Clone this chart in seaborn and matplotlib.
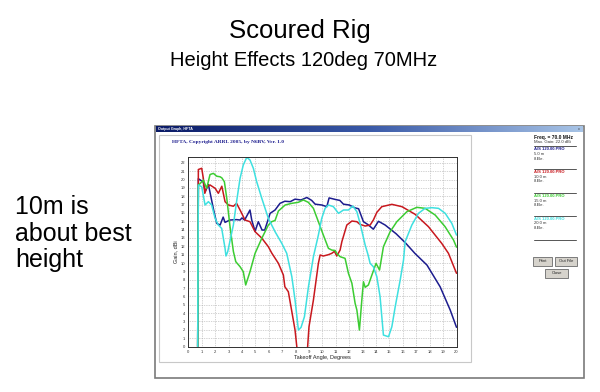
import numpy as np
import pandas as pd
import matplotlib
matplotlib.use("Agg")
import matplotlib.pyplot as plt
from matplotlib.patches import Rectangle
from matplotlib.colors import LinearSegmentedColormap
import seaborn as sns

# ---------------- data ----------------
series_names = ["5.0 m", "10.0 m", "15.0 m", "20.0 m"]
series_colors = ["#1c1c8e", "#c8181e", "#3ccc32", "#3ee0e0"]

blue_x = [0.7, 0.75, 1.12, 1.25, 1.5, 1.87, 2.12, 2.37, 2.6, 2.74, 3.1, 3.6, 3.86, 4.0, 4.2, 4.6, 4.73, 4.98,
          5.22, 5.5, 5.7, 6.1, 6.47, 6.84, 7.2, 7.6, 7.96, 8.4, 8.84, 9.2, 9.46, 9.95, 10.33, 10.5, 11.0, 11.3,
          11.57, 12.0, 12.44, 12.7, 13.06, 13.4, 13.8, 14.18, 14.68, 15.5, 16.2, 16.9, 17.8, 18.78, 19.53, 20.0]
blue_y = [0, 20.1, 19.7, 18.5, 19.4, 16.5, 14.75, 14.55, 15.5, 14.87, 15.15, 15.2, 15.15, 15.4, 15.15, 16.35, 15.15,
          13.8, 14.95, 13.95, 13.95, 15.95, 16.35, 17.15, 17.4, 17.35, 17.65, 17.55, 17.85, 17.5, 17.05, 16.95,
          16.75, 17.8, 17.6, 17.5, 17.05, 16.95, 16.6, 16.5, 14.95, 14.6, 14.05, 15.0, 14.55, 13.5, 12.4, 11.15,
          9.75, 7.15, 4.37, 2.3]

red_x = [0.7, 0.75, 1.0, 1.12, 1.23, 1.37, 1.62, 2.0, 2.24, 2.5, 2.74, 2.99, 3.36, 3.6, 3.86, 4.23, 4.6, 4.98,
         5.47, 5.97, 6.22, 6.72, 7.09, 7.2, 7.46, 7.7, 7.96, 8.09, 8.5, 8.9, 9.0, 9.33, 9.7, 9.83, 10.07, 10.45,
         10.7, 10.9, 11.07, 11.32, 11.45, 11.82, 12.2, 12.57, 12.8, 13.19, 13.56, 13.8, 14.06, 14.43, 15.18,
         15.93, 16.92, 17.91, 18.9, 19.4, 20.0]
red_y = [0, 21.2, 21.35, 20.15, 18.35, 19.1, 19.35, 18.95, 18.35, 19.2, 17.35, 16.95, 16.8, 17.15, 16.35, 15.15,
         14.95, 13.75, 13.0, 11.95, 11.2, 9.96, 8.56, 7.16, 6.56, 4.37, 1.97, 0, -4, 0, 2.37, 5.57, 9.96, 10.96,
         10.84, 11.0, 11.16, 11.4, 10.84, 11.55, 12.55, 14.55, 15.03, 14.95, 14.63, 14.43, 14.55, 15.15, 16.07,
         16.75, 17.03, 16.75, 15.83, 14.35, 12.35, 11.16, 8.77]

green_x = [0.7, 0.75, 0.87, 1.12, 1.37, 1.62, 1.87, 2.12, 2.37, 2.5, 2.69, 2.87, 3.1, 3.36, 3.54, 3.86, 4.1, 4.28,
           4.6, 4.98, 5.48, 5.97, 6.22, 6.47, 6.72, 7.22, 7.71, 8.2, 8.58, 8.95, 9.33, 9.7, 10.07, 10.45, 10.7,
           10.95, 11.07, 11.32, 11.69, 11.94, 12.2, 12.44, 12.57, 12.76, 12.94, 13.06, 13.19, 13.43, 13.69, 14.0,
           14.26, 14.55, 15.05, 15.55, 16.3, 17.04, 17.66, 18.41, 19.15, 19.78, 20.0]
green_y = [0, 19.35, 19.5, 19.94, 18.95, 20.6, 20.74, 20.4, 20.33, 20.2, 19.74, 17.75, 14.5, 11.4, 10.16, 9.56,
           8.96, 7.37, 8.96, 11.16, 12.96, 14.55, 14.95, 15.1, 16.23, 16.95, 17.15, 17.27, 17.55, 17.27, 16.55,
           14.95, 13.35, 11.76, 11.55, 11.5, 11.16, 10.76, 10.56, 8.77, 7.57, 5.17, 4.37, 1.97, 5.57, 7.76, 7.09,
           7.37, 8.56, 9.96, 9.16, 11.95, 13.75, 14.95, 16.15, 16.67, 16.55, 15.75, 14.35, 12.75, 11.9]

cyan_x = [0.7, 0.75, 1.0, 1.25, 1.5, 1.74, 2.0, 2.24, 2.49, 2.74, 2.81, 2.94, 3.36, 3.6, 3.86, 4.1, 4.36, 4.6,
          4.85, 5.1, 5.48, 5.97, 6.47, 6.97, 7.34, 7.72, 7.96, 8.21, 8.41, 8.66, 8.96, 9.33, 9.7, 9.95, 10.2,
          10.45, 10.82, 11.2, 11.57, 11.94, 12.27, 12.57, 12.81, 13.19, 13.4, 13.56, 13.8, 14.06, 14.3, 14.55,
          14.93, 15.18, 15.43, 15.8, 16.05, 16.17, 16.67, 17.16, 17.66, 18.16, 18.66, 19.16, 19.65, 20.0]
cyan_y = [0, 19.35, 19.14, 16.95, 17.35, 16.95, 15.35, 14.55, 14.15, 11.76, 10.84, 11.36, 14.55, 17.35, 20.15,
          21.74, 22.66, 22.34, 21.35, 19.74, 17.75, 15.35, 13.75, 12.36, 11.16, 8.36, 5.57, 1.97, 2.3, 3.57, 7.16,
          10.76, 13.35, 15.35, 16.55, 16.95, 16.75, 15.95, 16.35, 16.35, 16.83, 16.15, 14.75, 12.15, 11.0, 9.96,
          9.56, 8.36, 5.97, 1.37, 1.17, 2.37, 4.77, 7.96, 10.36, 12.55, 14.55, 15.95, 16.55, 16.63, 16.55, 15.95,
          14.75, 13.35]

x_ticks = list(range(0, 21))
y_ticks = list(range(0, 23))

legend_file = "A/S 120.00.PRO"
legend_ele = "8-Ele."

# ---------------- figure ----------------
sns.set_style("white")
plt.rcParams["font.family"] = ["Liberation Sans", "DejaVu Sans"]

W, H = 600, 392
fig = plt.figure(figsize=(6.0, 3.92), dpi=100)
fig.patch.set_facecolor("white")

def fx(px):
    return px / W

def fy(py):
    return 1 - py / H

# slide text
fig.text(fx(300), fy(31), "Scoured Rig", ha="center", va="center", fontsize=18.5, color="black")
fig.text(fx(304), fy(60), "Height Effects 120deg 70MHz", ha="center", va="center", fontsize=14.5, color="black")
for txt, yy in zip(["10m is", "about best", "height"], [207, 234, 260]):
    fig.text(fx(15), fy(yy), txt, ha="left", va="center", fontsize=18, color="black")

# window frame (behind everything)
fig.patches.append(Rectangle((fx(155), fy(378)), fx(584) - fx(155), fy(126) - fy(378),
                             transform=fig.transFigure, facecolor="white", edgecolor="#7a7a7a",
                             linewidth=1.2, zorder=-5))
fig.patches.append(Rectangle((fx(159), fy(362)), fx(471) - fx(159), fy(135) - fy(362),
                             transform=fig.transFigure, facecolor="white", edgecolor="#c8c8c8",
                             linewidth=0.8, zorder=-4))
# title bar gradient
tb = fig.add_axes([fx(156), fy(132.5), fx(583) - fx(156), (132.5 - 126) / H])
tb.set_zorder(5)
cmap = LinearSegmentedColormap.from_list("tb", ["#0a1a66", "#3a5aa8", "#a8c4e6"])
tb.imshow(np.linspace(0, 1, 256)[None, :], aspect="auto", cmap=cmap, extent=[0, 1, 0, 1])
tb.set_axis_off()
tb.text(0.005, 0.5, "Output Graph, HFTA", color="white", fontsize=2.6, fontweight="bold",
        va="center", ha="left", transform=tb.transAxes)
tb.text(0.99, 0.5, "x", color="#333333", fontsize=2.6, va="center", ha="center", transform=tb.transAxes)

fig.text(fx(172), fy(141.5), "HFTA, Copyright ARRL 2005, by N6BV, Ver. 1.0", color="#1c1c8e",
         fontsize=3.9, fontweight="bold", family=["Liberation Serif", "DejaVu Serif"], va="center", ha="left")

# right panel legend
lx = 534
fig.text(fx(lx), fy(137), "Freq. = 70.0 MHz", fontsize=3.5, fontweight="bold", color="#111111", va="center")
fig.text(fx(lx), fy(141.5), "Max. Gain: 22.0 dBi", fontsize=3.1, color="#333333", va="center")
sep_y = [146, 168.5, 192.5, 215.5, 239.5]
for sy in sep_y:
    fig.lines.append(plt.Line2D([fx(lx), fx(576)], [fy(sy), fy(sy)], transform=fig.transFigure,
                                color="#555555", linewidth=0.7))
for i, (name, col) in enumerate(zip(series_names, series_colors)):
    base = sep_y[i]
    fig.text(fx(lx), fy(base + 3.5), legend_file, fontsize=3.0, color=col, fontweight="bold", va="center")
    fig.text(fx(lx), fy(base + 8), name, fontsize=3.0, color="#333333", va="center")
    fig.text(fx(lx), fy(base + 12.5), legend_ele, fontsize=3.0, color="#333333", va="center")

# buttons
for (bx0, by0, bx1, by1, label) in [(533, 257, 552, 266, "Print"), (555, 257, 577, 266, "Out File"),
                                     (545, 268.5, 568, 278, "Close")]:
    fig.patches.append(Rectangle((fx(bx0), fy(by1)), fx(bx1) - fx(bx0), fy(by0) - fy(by1),
                                 transform=fig.transFigure, facecolor="#d6d3cc", edgecolor="#6a6a6a",
                                 linewidth=0.6))
    fig.text(fx((bx0 + bx1) / 2), fy((by0 + by1) / 2), label, fontsize=3.0, color="#222222",
             ha="center", va="center")

# plot axes
ax = fig.add_axes([fx(188.3), fy(346.5), fx(456.5) - fx(188.3), (346.5 - 157) / H])
ax.set_zorder(2)
ax.set_facecolor("white")
all_x = [blue_x, red_x, green_x, cyan_x]
all_y = [blue_y, red_y, green_y, cyan_y]
for name, col, xs, ys in zip(series_names, series_colors, all_x, all_y):
    df = pd.DataFrame({"angle": xs, "gain": ys})
    sns.lineplot(data=df, x="angle", y="gain", ax=ax, color=col, linewidth=1.1, sort=False,
                 estimator=None, legend=False)

ax.set_xlim(0, 20)
ax.set_ylim(0, 22.7)
ax.set_xticks(x_ticks)
ax.set_yticks(y_ticks)
ax.set_xticklabels([str(t) for t in x_ticks])
ax.set_yticklabels([str(t) for t in y_ticks])
ax.tick_params(axis="both", labelsize=3.0, length=1.2, width=0.4, pad=1.2, colors="#333333")
ax.grid(True, linestyle=(0, (1, 1.5)), color="#a8a8a8", linewidth=0.5)
for sp in ax.spines.values():
    sp.set_color("#303030")
    sp.set_linewidth(0.7)
ax.set_xlabel("Takeoff Angle, Degrees", fontsize=4.0, labelpad=0.5, color="#222222")
ax.set_ylabel("Gain, dBi", fontsize=4.0, labelpad=1.5, color="#222222")

fig.savefig("out.png", dpi=100, facecolor="white")
